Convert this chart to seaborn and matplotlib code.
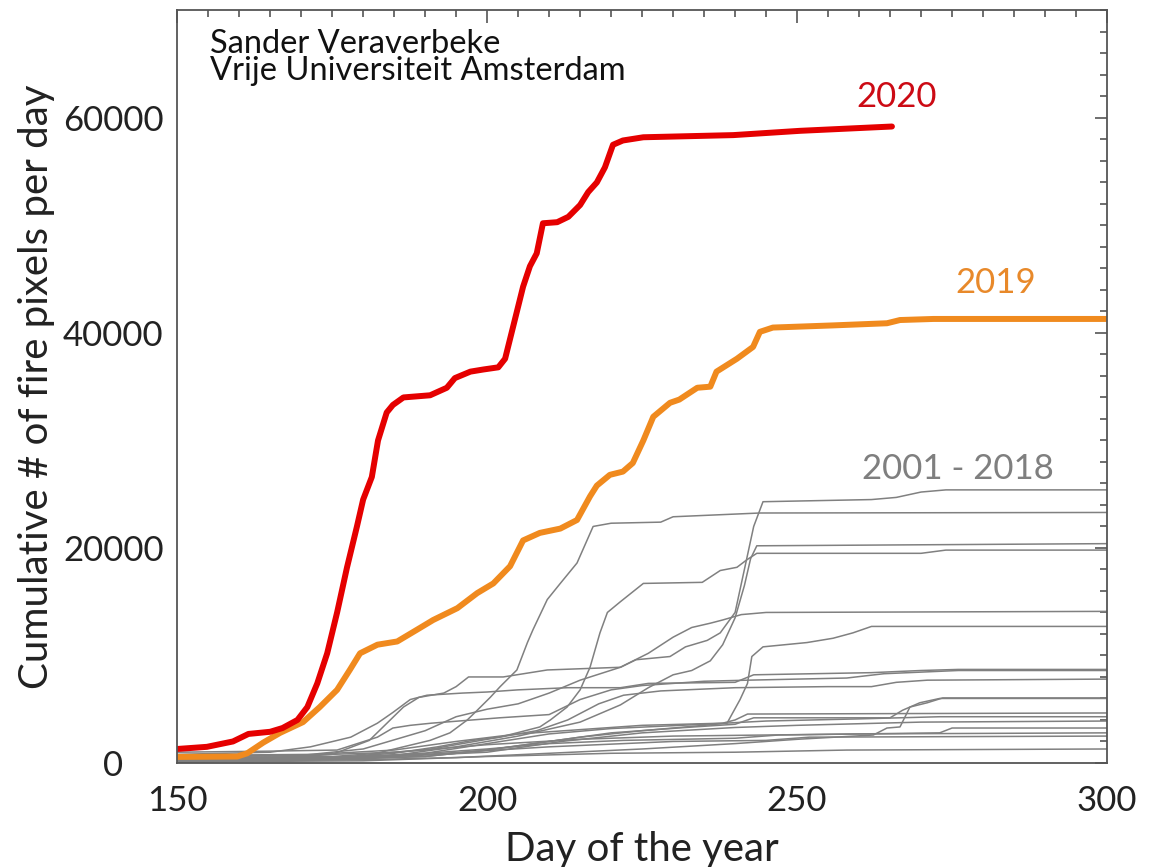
import numpy as np
import pandas as pd
import matplotlib
matplotlib.use("Agg")
import matplotlib.pyplot as plt
import seaborn as sns
from matplotlib.ticker import MultipleLocator

# ---------------- data (day of year, cumulative fire pixels) ----------------
days_2020 = [150, 154.8, 159, 161.5, 165, 167, 169.4, 171, 172.6, 174.2, 175.8, 177.4, 179, 180, 181.4,
             182.4, 183.8, 184.8, 186.5, 190.8, 193.5, 194.8, 197.3, 199.4, 201.8, 202.9, 204.2, 205.8,
             206.9, 208, 209, 211.3, 213.1, 215, 216.3, 217.7, 219, 220.3, 221.9, 225.2, 239.7, 250.5, 265.3]
vals_2020 = [1300, 1500, 2000, 2700, 2900, 3250, 4000, 5200, 7400, 10200, 14000, 18200, 22000, 24500, 26600,
             30000, 32600, 33300, 34000, 34200, 34900, 35800, 36400, 36600, 36800, 37600, 40600, 44300,
             46200, 47400, 50200, 50300, 50800, 51900, 53100, 54000, 55400, 57500, 57900, 58200, 58400, 58800, 59200]

days_2019 = [150, 159.7, 161.3, 163.9, 166.6, 170.3, 173, 175.8, 177.9, 179.5, 182.3, 185.5, 188.7, 191.3,
             195.2, 198.4, 201, 203.7, 205.8, 208.5, 211.8, 214.5, 216.6, 217.7, 219.8, 221.9, 223.5, 225.2,
             226.8, 229.5, 231, 233.9, 236, 237, 240.3, 242.9, 244, 246.1, 255.8, 264.5, 266.6, 272, 300]
vals_2019 = [560, 600, 900, 1900, 2800, 3800, 5200, 6800, 8700, 10200, 11000, 11300, 12400, 13300,
             14400, 15800, 16700, 18300, 20700, 21400, 21800, 22600, 24800, 25800, 26800, 27100, 27900, 30000,
             32200, 33500, 33800, 34900, 35000, 36400, 37600, 38700, 40100, 40500, 40700, 40900, 41200, 41300, 41300]

days_2001 = [150, 165, 175, 181, 186.5, 189, 193, 195, 197, 202.6, 209.7, 221.5, 224, 229.5, 232, 235.5, 237.6,
             240, 241.5, 243, 244.5, 262, 266, 270, 274, 300]
vals_2001 = [300, 400, 800, 2100, 5200, 6100, 6500, 7100, 8000, 8000, 8650, 8900, 9600, 9900, 10800, 11400, 12100,
             14000, 18000, 22000, 24300, 24500, 24700, 25200, 25400, 25400]
days_2002 = [150, 170, 180, 190.8, 194, 196.8, 198.4, 200.5, 202.1, 204.8, 206.5, 207.4, 209.7, 211.8, 214.5,
             217.1, 220, 228, 230, 244, 300]
vals_2002 = [100, 300, 600, 2100, 2800, 4000, 4900, 6100, 7100, 8650, 11200, 12400, 15200, 16700, 18600,
             22000, 22300, 22400, 22900, 23250, 23300]
days_2003 = [150, 175, 185, 195, 205, 215, 221.5, 226, 230, 233, 236, 238, 240, 241.5, 242.5, 243.5, 300]
vals_2003 = [200, 400, 700, 1500, 2500, 3800, 5400, 7000, 8200, 8600, 9500, 11000, 13500, 16500, 19000, 20200, 20400]
days_2004 = [150, 175, 185, 192, 197.7, 202, 204.8, 208.5, 210.2, 212.9, 215, 216.6, 218.2, 219.4, 221.5, 225.2,
             234.7, 237.6, 240.3, 241.9, 243.5, 270, 274, 300]
vals_2004 = [400, 500, 900, 1500, 2100, 2400, 2800, 3350, 4000, 5200, 6800, 8900, 12100, 14000, 15000, 16700,
             16800, 17900, 18200, 18900, 19500, 19500, 19800, 19800]
days_2005 = [150, 170, 180, 190, 195, 200, 205, 210, 215, 221.5, 226, 230, 233, 236, 238, 241, 245, 300]
vals_2005 = [600, 700, 1300, 3000, 4300, 5000, 5500, 6500, 7700, 8900, 10200, 11700, 12600, 13000, 13300, 13800,
             14000, 14100]
days_2006 = [150, 175, 190, 200, 215, 225, 235, 238.7, 240.8, 242, 242.7, 244.5, 251.6, 255.8, 259, 262, 300]
vals_2006 = [100, 300, 600, 1200, 2400, 3000, 3500, 3700, 5900, 7400, 9900, 10800, 11200, 11600, 12100, 12700, 12700]
days_2007 = [150, 165, 171.5, 178, 182.3, 184.8, 187.6, 190.3, 196, 200, 205, 213, 221.5, 226, 240, 243, 262,
             270, 276, 300]
vals_2007 = [800, 1000, 1500, 2400, 3700, 4700, 5900, 6300, 6500, 6600, 6800, 7000, 7000, 7400, 7500, 8200, 8400,
             8600, 8700, 8700]
days_2008 = [150, 165, 175.8, 182.3, 184.8, 187.6, 191, 202, 210, 215, 220, 225, 235, 242, 258, 264, 276, 300]
vals_2008 = [1000, 1100, 1200, 2400, 3250, 3500, 3700, 4200, 4500, 5900, 6800, 7200, 7600, 7700, 7900, 8300,
             8600, 8600]
days_2009 = [150, 175, 190, 200, 208, 213, 218, 222, 228, 240, 255, 262, 266, 271, 300]
vals_2009 = [500, 600, 1200, 2200, 3000, 4000, 5500, 6300, 6700, 7000, 7100, 7100, 7500, 7700, 7800]
days_2010 = [150, 175, 190, 200, 210, 220, 232, 240, 243, 265, 267, 268.2, 271, 273.5, 300]
vals_2010 = [300, 400, 600, 1200, 2000, 2800, 3300, 3600, 4200, 4200, 4900, 5200, 5600, 6050, 6050]
days_2011 = [150, 180, 195, 210, 225, 240, 250, 262.3, 264.5, 266.6, 268.2, 269.8, 273, 300]
vals_2011 = [200, 300, 500, 900, 1300, 1800, 2200, 2600, 3250, 3350, 5200, 5600, 6000, 6000]
days_2012 = [150, 172, 185, 195, 205, 215, 225, 238, 240, 242, 300]
vals_2012 = [700, 800, 1200, 2000, 2700, 3100, 3500, 3700, 4000, 4550, 4650]
days_2013 = [150, 175, 190, 200, 210, 220, 235, 245, 260, 273, 300]
vals_2013 = [400, 500, 900, 1800, 2700, 3200, 3600, 3900, 4100, 4300, 4300]
days_2014 = [150, 170, 185, 200, 215, 230, 245, 260, 273, 275, 300]
vals_2014 = [600, 700, 1000, 1700, 2200, 2500, 2600, 2700, 2800, 3250, 3250]
days_2015 = [150, 172, 185, 200, 210, 222, 240, 247, 260, 300]
vals_2015 = [300, 400, 700, 1300, 1800, 2100, 2300, 2600, 2700, 2800]
days_2016 = [150, 170, 190, 210, 230, 245, 252, 300]
vals_2016 = [200, 300, 800, 1500, 2000, 2100, 2400, 2500]
days_2017 = [150, 180, 200, 220, 240, 258, 300]
vals_2017 = [100, 200, 600, 900, 1000, 1200, 1300]
days_2018 = [150, 185, 200, 212, 225, 240, 250, 270, 300]
vals_2018 = [500, 600, 1000, 2000, 2800, 3300, 3500, 3800, 3900]

gray_series = {
    2001: (days_2001, vals_2001), 2002: (days_2002, vals_2002), 2003: (days_2003, vals_2003),
    2004: (days_2004, vals_2004), 2005: (days_2005, vals_2005), 2006: (days_2006, vals_2006),
    2007: (days_2007, vals_2007), 2008: (days_2008, vals_2008), 2009: (days_2009, vals_2009),
    2010: (days_2010, vals_2010), 2011: (days_2011, vals_2011), 2012: (days_2012, vals_2012),
    2013: (days_2013, vals_2013), 2014: (days_2014, vals_2014), 2015: (days_2015, vals_2015),
    2016: (days_2016, vals_2016), 2017: (days_2017, vals_2017), 2018: (days_2018, vals_2018),
}

x_ticks = [150, 200, 250, 300]
y_ticks = [0, 20000, 40000, 60000]
y_tick_labels = ["0", "20000", "40000", "60000"]

# ---------------- styling ----------------
sns.set_theme(style="white")
plt.rcParams['font.family'] = ['Lato', 'DejaVu Sans']

FRAME = "#555555"
GRAY = "#808080"
RED = "#E50000"
ORANGE = "#F08A1E"

gray_rows = []
for yr, (d, v) in gray_series.items():
    for di, vi in zip(d, v):
        gray_rows.append({"year": yr, "day": di, "value": vi})
df_gray = pd.DataFrame(gray_rows)
df_2019 = pd.DataFrame({"day": days_2019, "value": vals_2019})
df_2020 = pd.DataFrame({"day": days_2020, "value": vals_2020})

fig = plt.figure(figsize=(11.58, 8.67), dpi=100)
ax = fig.add_axes([0.153, 0.120, 0.803, 0.868])

sns.lineplot(data=df_gray, x="day", y="value", units="year", estimator=None,
             color=GRAY, linewidth=1.1, ax=ax, legend=False)
sns.lineplot(data=df_2019, x="day", y="value", estimator=None, color=ORANGE,
             linewidth=4.3, ax=ax, legend=False)
sns.lineplot(data=df_2020, x="day", y="value", estimator=None, color=RED,
             linewidth=4.3, ax=ax, legend=False)

ax.set_xlim(150, 300)
ax.set_ylim(0, 70000)
ax.set_xticks(x_ticks)
ax.set_xticklabels([str(t) for t in x_ticks])
ax.set_yticks(y_ticks)
ax.set_yticklabels(y_tick_labels)
ax.xaxis.set_minor_locator(MultipleLocator(5))
ax.yaxis.set_minor_locator(MultipleLocator(2000))
ax.tick_params(which="both", direction="in", top=True, right=True, colors=FRAME,
               labelcolor="#222222", labelsize=25, width=1.2)
ax.tick_params(which="major", length=9)
ax.tick_params(which="minor", length=5)
ax.tick_params(axis="x", which="major", pad=16)
ax.tick_params(axis="y", which="major", pad=46)
for lab in ax.get_yticklabels():
    lab.set_horizontalalignment("center")
for s in ax.spines.values():
    s.set_color(FRAME)
    s.set_linewidth(1.3)

ax.set_xlabel("Day of the year", fontsize=29, color="#222222", labelpad=10)
ax.set_ylabel("Cumulative # of fire pixels per day", fontsize=29, color="#222222", labelpad=6)

ax.text(0.035, 0.975, "Sander Veraverbeke\nVrije Universiteit Amsterdam", transform=ax.transAxes,
        ha="left", va="top", fontsize=23.5, color="#111111", linespacing=0.88)
ax.text(266, 61900, "2020", color="#CC0A14", fontsize=25, ha="center", va="center")
ax.text(282, 44600, "2019", color="#E8892A", fontsize=25, ha="center", va="center")
ax.text(276, 27300, "2001 - 2018", color="#7F7F7F", fontsize=25, ha="center", va="center")

fig.savefig("out.png", dpi=100)
